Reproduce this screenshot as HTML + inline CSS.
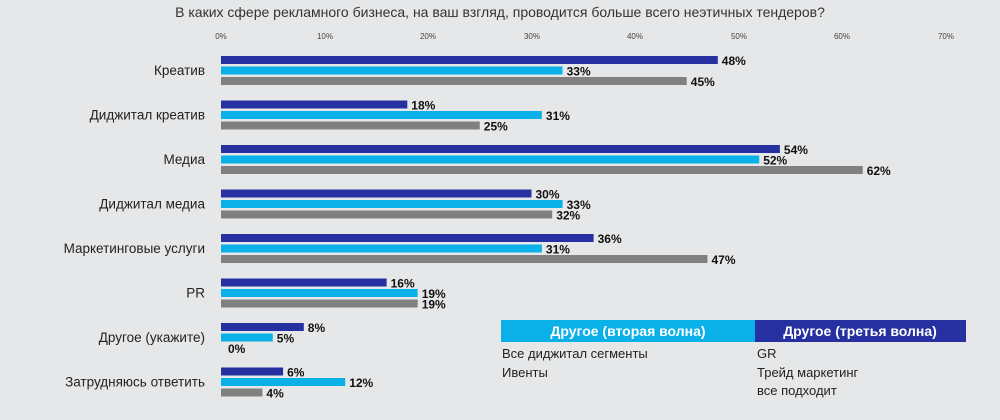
<!DOCTYPE html>
<html><head><meta charset="utf-8"><style>
body{margin:0;background:#e6e7e8;}
svg{display:block;font-family:"Liberation Sans","DejaVu Sans",sans-serif;}
</style></head><body>
<svg width="1000" height="420" viewBox="0 0 1000 420">
<rect width="1000" height="420" fill="#e6e7e8"/>
<text x="500" y="17" font-size="14" fill="#333" text-anchor="middle">В каких сфере рекламного бизнеса, на ваш взгляд, проводится больше всего неэтичных тендеров?</text>
<g font-size="8" fill="#444" text-anchor="middle">
<text x="221" y="39">0%</text><text x="325" y="39">10%</text><text x="428" y="39">20%</text><text x="532" y="39">30%</text><text x="635" y="39">40%</text><text x="739" y="39">50%</text><text x="842" y="39">60%</text><text x="946" y="39">70%</text>
</g>
<g font-size="13.5" fill="#222" text-anchor="end">
<text x="205" y="75">Креатив</text>
<text x="205" y="119.5">Диджитал креатив</text>
<text x="205" y="164">Медиа</text>
<text x="205" y="208.5">Диджитал медиа</text>
<text x="205" y="253">Маркетинговые услуги</text>
<text x="205" y="297.5">PR</text>
<text x="205" y="342">Другое (укажите)</text>
<text x="205" y="386.5">Затрудняюсь ответить</text>
</g>
<g>
<rect x="221" y="56" width="496.8" height="8" fill="#2630a0"/><rect x="221" y="66.5" width="341.55" height="8" fill="#0ab1e8"/><rect x="221" y="77" width="465.75" height="8" fill="#808080"/>
<rect x="221" y="100.5" width="186.3" height="8" fill="#2630a0"/><rect x="221" y="111" width="320.85" height="8" fill="#0ab1e8"/><rect x="221" y="121.5" width="258.75" height="8" fill="#808080"/>
<rect x="221" y="145" width="558.9" height="8" fill="#2630a0"/><rect x="221" y="155.5" width="538.2" height="8" fill="#0ab1e8"/><rect x="221" y="166" width="641.7" height="8" fill="#808080"/>
<rect x="221" y="189.5" width="310.5" height="8" fill="#2630a0"/><rect x="221" y="200" width="341.55" height="8" fill="#0ab1e8"/><rect x="221" y="210.5" width="331.2" height="8" fill="#808080"/>
<rect x="221" y="234" width="372.6" height="8" fill="#2630a0"/><rect x="221" y="244.5" width="320.85" height="8" fill="#0ab1e8"/><rect x="221" y="255" width="486.45" height="8" fill="#808080"/>
<rect x="221" y="278.5" width="165.6" height="8" fill="#2630a0"/><rect x="221" y="289" width="196.65" height="8" fill="#0ab1e8"/><rect x="221" y="299.5" width="196.65" height="8" fill="#808080"/>
<rect x="221" y="323" width="82.8" height="8" fill="#2630a0"/><rect x="221" y="333.5" width="51.75" height="8" fill="#0ab1e8"/>
<rect x="221" y="367.5" width="62.1" height="8" fill="#2630a0"/><rect x="221" y="378" width="124.2" height="8" fill="#0ab1e8"/><rect x="221" y="388.5" width="41.4" height="8" fill="#808080"/>
</g>
<g font-size="12" font-weight="bold" fill="#111">
<text x="721.8" y="65">48%</text><text x="566.6" y="75.5">33%</text><text x="690.8" y="86">45%</text>
<text x="411.3" y="109.5">18%</text><text x="545.9" y="120">31%</text><text x="483.8" y="130.5">25%</text>
<text x="783.9" y="154">54%</text><text x="763.2" y="164.5">52%</text><text x="866.7" y="175">62%</text>
<text x="535.5" y="198.5">30%</text><text x="566.6" y="209">33%</text><text x="556.2" y="219.5">32%</text>
<text x="597.6" y="243">36%</text><text x="545.9" y="253.5">31%</text><text x="711.5" y="264">47%</text>
<text x="390.6" y="287.5">16%</text><text x="421.7" y="298">19%</text><text x="421.7" y="308.5">19%</text>
<text x="307.8" y="332">8%</text><text x="276.8" y="342.5">5%</text><text x="228" y="353">0%</text>
<text x="287.1" y="376.5">6%</text><text x="349.2" y="387">12%</text><text x="266.4" y="397.5">4%</text>
</g>
<rect x="501" y="320" width="254" height="22" fill="#0ab1e8"/>
<rect x="755" y="320" width="211" height="22" fill="#2630a0"/>
<text x="628" y="336" font-size="14" font-weight="bold" fill="#fff" text-anchor="middle">Другое (вторая волна)</text>
<text x="860" y="336" font-size="14" font-weight="bold" fill="#fff" text-anchor="middle">Другое (третья волна)</text>
<g font-size="13" fill="#222">
<text x="502" y="358">Все диджитал сегменты</text>
<text x="502" y="377">Ивенты</text>
<text x="757" y="358">GR</text>
<text x="757" y="377">Трейд маркетинг</text>
<text x="757" y="395">все подходит</text>
</g>
</svg>
</body></html>
